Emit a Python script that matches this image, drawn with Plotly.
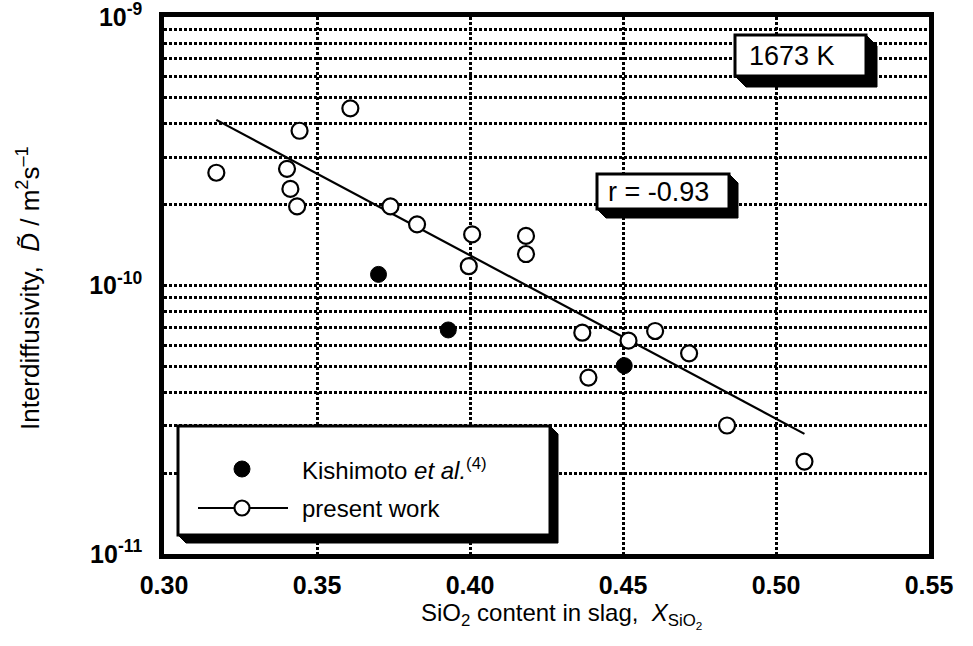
import numpy as np
import plotly.graph_objects as go

# ---- data ----------------------------------------------------------------
# present work: SiO2 mole fraction vs interdiffusivity (m^2/s)
present_x = [0.3171, 0.3402, 0.3413, 0.3435, 0.3443, 0.3609, 0.3740, 0.3827,
             0.3996, 0.4007, 0.4183, 0.4183, 0.4367, 0.4387, 0.4518, 0.4605,
             0.4716, 0.4840, 0.5093]
present_D = [2.63e-10, 2.72e-10, 2.29e-10, 1.97e-10, 3.77e-10, 4.57e-10,
             1.97e-10, 1.69e-10, 1.18e-10, 1.55e-10, 1.53e-10, 1.31e-10,
             6.67e-11, 4.54e-11, 6.23e-11, 6.77e-11, 5.59e-11, 3.01e-11,
             2.21e-11]

# Kishimoto et al. (4)
kishi_x = [0.3701, 0.3929, 0.4504]
kishi_D = [1.10e-10, 6.83e-11, 5.03e-11]

# regression: log10(D) = fit_intercept + fit_slope * X
fit_intercept = -7.454
fit_slope = -6.084
fit_x = [0.3171, 0.5093]

x_ticks = [0.30, 0.35, 0.40, 0.45, 0.50, 0.55]
x_ticktext = ["0.30", "0.35", "0.40", "0.45", "0.50", "0.55"]
decades = [-11, -10, -9]
r_label = "r = -0.93"
temp_label = "1673 K"

# ---- layout geometry (pixels) ---------------------------------------------
W, H = 973, 646
PL, PR, PT, PB = 164, 929, 17, 554
FONT = "Liberation Sans, Arial, Helvetica, sans-serif"


def px(xp):
    return (xp - PL) / (PR - PL)


def py(yp):
    return (PB - yp) / (PB - PT)


# y ticks: every 1..9 x 10^n for dotted grid, labels only on decades
y_tickvals, y_ticktext = [], []
for d in decades:
    for k in range(1, 10):
        if d == decades[-1] and k > 1:
            break
        y_tickvals.append(k * 10.0 ** d)
        y_ticktext.append(f"10<sup>{d}</sup>" if k == 1 else "")

fit_D = [10 ** (fit_intercept + fit_slope * v) for v in fit_x]

fig = go.Figure()

fig.add_trace(go.Scatter(
    x=fit_x, y=fit_D, mode="lines",
    line=dict(color="black", width=2.2), showlegend=False, hoverinfo="skip"))

fig.add_trace(go.Scatter(
    x=present_x, y=present_D, mode="markers", name="present work",
    marker=dict(symbol="circle", size=16, color="white",
                line=dict(color="black", width=2.2)),
    showlegend=False))

fig.add_trace(go.Scatter(
    x=kishi_x, y=kishi_D, mode="markers", name="Kishimoto et al.",
    marker=dict(symbol="circle", size=16, color="black",
                line=dict(color="black", width=1)),
    showlegend=False))

grid_dash = "3px,2px"

fig.update_xaxes(
    range=[0.30, 0.55], tickvals=x_ticks, ticktext=x_ticktext,
    showgrid=True, gridcolor="black", gridwidth=2.6, griddash=grid_dash,
    showline=True, linecolor="black", linewidth=4.5, mirror=True,
    ticks="", ticklabelstandoff=5, zeroline=False, automargin=False,
    tickfont=dict(family=FONT, size=25, color="black", weight="bold"))

fig.update_yaxes(
    type="log", range=[-11.00001, -8.99999], tickvals=y_tickvals,
    ticktext=y_ticktext, ticklabeloverflow="allow", automargin=False,
    showgrid=True, gridcolor="black", gridwidth=2.6, griddash=grid_dash,
    showline=True, linecolor="black", linewidth=4.5, mirror=True,
    ticks="", ticklabelstandoff=12, zeroline=False,
    tickfont=dict(family=FONT, size=25, color="black", weight="bold"))

shapes = []
annotations = []


def shadow_box(x0, y0, x1, y1, d):
    """Black extruded shadow (chamfered) plus white framed box."""
    path = (f"M{px(x1)},{py(y0)} L{px(x1 + d)},{py(y0 + d)} "
            f"L{px(x1 + d)},{py(y1 + d)} L{px(x0 + d)},{py(y1 + d)} "
            f"L{px(x0)},{py(y1)} L{px(x1)},{py(y1)} Z")
    shapes.append(dict(type="path", xref="paper", yref="paper", path=path,
                       fillcolor="black", line=dict(color="black", width=1),
                       layer="above"))
    shapes.append(dict(type="rect", xref="paper", yref="paper",
                       x0=px(x0), x1=px(x1), y0=py(y1), y1=py(y0),
                       fillcolor="white", line=dict(color="black", width=3),
                       layer="above"))


def label(xp, yp, text, size, xanchor="center", angle=0):
    annotations.append(dict(xref="paper", yref="paper", x=px(xp), y=py(yp),
                            xanchor=xanchor, yanchor="middle",
                            text=text, showarrow=False, textangle=angle,
                            font=dict(family=FONT, size=size, color="black")))


# temperature label
shadow_box(735, 35, 866, 76, 11)
label(792, 56, temp_label, 27)

# correlation coefficient label
shadow_box(597, 174, 729, 209, 9)
label(658, 192, r_label, 27)

# legend box
shadow_box(178, 426, 550, 535, 8)
# legend symbols
shapes.append(dict(type="line", xref="paper", yref="paper",
                   x0=px(198), x1=px(288), y0=py(508), y1=py(508),
                   line=dict(color="black", width=2.2), layer="above"))
shapes.append(dict(type="circle", xref="paper", yref="paper",
                   xsizemode="pixel", ysizemode="pixel",
                   xanchor=px(242), yanchor=py(508),
                   x0=-7.5, x1=7.5, y0=-7.5, y1=7.5,
                   fillcolor="white", line=dict(color="black", width=2.2),
                   layer="above"))
shapes.append(dict(type="circle", xref="paper", yref="paper",
                   xsizemode="pixel", ysizemode="pixel",
                   xanchor=px(242), yanchor=py(469),
                   x0=-8, x1=8, y0=-8, y1=8,
                   fillcolor="black", line=dict(color="black", width=1),
                   layer="above"))
label(300, 469, "Kishimoto <i>et al.</i><sup>(4)</sup>", 24, xanchor="left")
label(300, 508, "present work", 24, xanchor="left")

# axis titles
label(561, 615, "SiO<sub>2</sub> content in slag,  "
                "<i>X</i><sub>SiO<sub>2</sub></sub>", 24)
label(28, 288, "Interdiffusivity,  <i>D\u0303</i> / "
               "m<sup>2</sup>s<sup>\u20131</sup>", 26, angle=-90)

fig.update_layout(
    width=W, height=H,
    margin=dict(l=PL, r=W - PR, t=PT, b=H - PB, pad=0, autoexpand=False),
    paper_bgcolor="white", plot_bgcolor="white",
    shapes=shapes, annotations=annotations,
    showlegend=False,
    font=dict(family=FONT, color="black"))

fig.write_html("out.html")
